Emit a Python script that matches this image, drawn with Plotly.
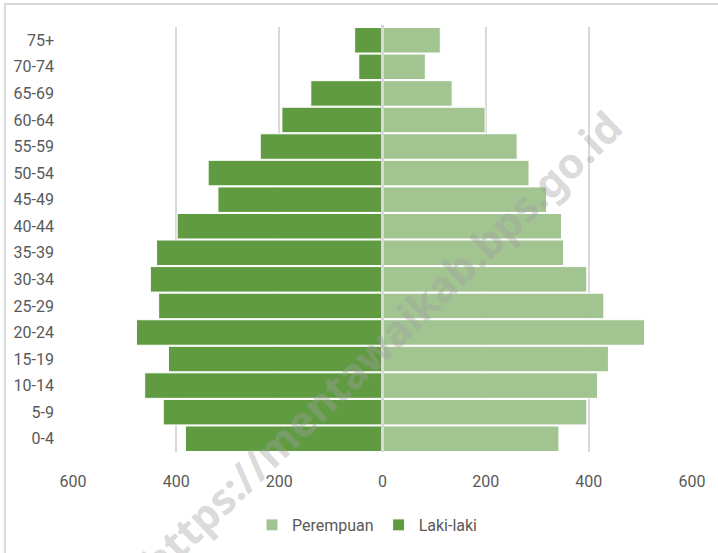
import plotly.graph_objects as go

age_groups = ["0-4", "5-9", "10-14", "15-19", "20-24", "25-29", "30-34", "35-39",
              "40-44", "45-49", "50-54", "55-59", "60-64", "65-69", "70-74", "75+"]
laki_laki = [382, 425, 461, 415, 477, 434, 450, 438, 398, 319, 338, 237, 195, 139, 46, 54]
perempuan = [342, 396, 417, 438, 508, 429, 396, 351, 347, 318, 284, 261, 199, 135, 83, 112]
tick_values = [-600, -400, -200, 0, 200, 400, 600]
tick_labels = ["600", "400", "200", "0", "200", "400", "600"]

FONT = "Roboto, Liberation Sans, sans-serif"
GREY = "#595959"
FS = 16

fig = go.Figure()
fig.add_trace(go.Bar(
    y=age_groups, x=perempuan, orientation="h", name="Perempuan",
    marker=dict(color="#A2C491", line=dict(color="white", width=1)),
))
fig.add_trace(go.Bar(
    y=age_groups, x=[-v for v in laki_laki], orientation="h", name="Laki-laki",
    customdata=laki_laki, hovertemplate="%{y}: %{customdata}<extra>Laki-laki</extra>",
    marker=dict(color="#609B42", line=dict(color="white", width=1)),
))

fig.update_layout(
    width=718, height=553,
    margin=dict(l=73, r=26, t=27, b=100),
    paper_bgcolor="white", plot_bgcolor="white",
    barmode="relative", bargap=0.04,
    font=dict(family=FONT, size=FS, color=GREY),
    showlegend=True,
    legend=dict(orientation="h", x=0.475, xanchor="center", y=-0.169, yanchor="middle",
                font=dict(family=FONT, size=FS, color=GREY), traceorder="normal",
                itemwidth=30, tracegroupgap=0),
    xaxis=dict(range=[-600, 600], tickvals=tick_values, ticktext=tick_labels,
               showgrid=True, gridcolor="#d9d9d9", gridwidth=1.5, zeroline=False,
               showline=False, ticks="", ticklabelstandoff=18,
               tickfont=dict(family=FONT, size=FS, color=GREY), fixedrange=True),
    yaxis=dict(type="category", range=[-0.5, 15.5], showgrid=False, zeroline=False,
               showline=False, ticks="", ticklabelstandoff=18,
               tickfont=dict(family=FONT, size=FS, color=GREY), fixedrange=True),
    shapes=[
        dict(type="line", xref="x", yref="paper", x0=0, x1=0, y0=0, y1=1.005,
             line=dict(color="#d9d9d9", width=3), layer="above"),
        dict(type="rect", xref="paper", yref="paper", x0=-0.11, x1=1.2, y0=-0.35, y1=1.054,
             line=dict(color="#d9d9d9", width=2), fillcolor="rgba(0,0,0,0)", layer="below"),
    ],
    annotations=[
        dict(text="https://mentawaikab.bps.go.id", xref="paper", yref="paper",
             x=0.497, y=0.255, xanchor="center", yanchor="middle", showarrow=False,
             textangle=-44,
             font=dict(family="Noto Sans, DejaVu Sans, sans-serif", size=42,
                       color="rgba(160,160,160,0.4)", weight="bold")),
    ],
)

fig.write_html("out.html", config={"displayModeBar": False},
               post_script="document.body.style.margin='0';document.body.style.overflow='hidden';")
